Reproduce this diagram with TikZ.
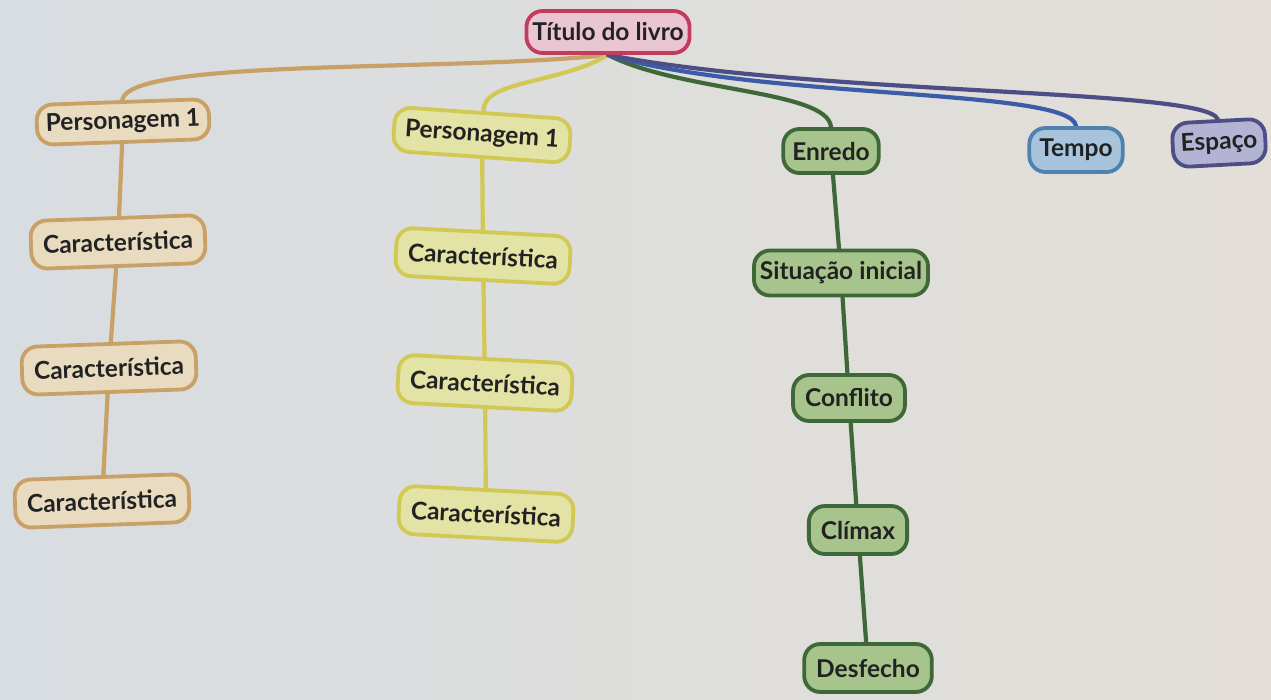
\documentclass[tikz,border=0pt]{standalone}
\usepackage{fontspec}
\setmainfont{Lato}
\pgfdeclarelayer{bg}
\pgfdeclarelayer{edges}
\pgfsetlayers{bg,edges,main}
\definecolor{bgleft}{HTML}{D8DDE1}
\definecolor{bgright}{HTML}{E3DED7}
\definecolor{tanfill}{HTML}{E8DBC0}
\definecolor{tandraw}{HTML}{C9A066}
\definecolor{yelfill}{HTML}{E3E3A6}
\definecolor{yeldraw}{HTML}{D2C955}
\definecolor{grnfill}{HTML}{A8C48D}
\definecolor{grndraw}{HTML}{3E6838}
\definecolor{blufill}{HTML}{A7C4DC}
\definecolor{bludraw}{HTML}{4F82AE}
\definecolor{blueline}{HTML}{3C5CA8}
\definecolor{purfill}{HTML}{B3B3D3}
\definecolor{purdraw}{HTML}{4E4E86}
\definecolor{rootfill}{HTML}{E9C6D1}
\definecolor{rootdraw}{HTML}{C23C5E}
\definecolor{txt}{HTML}{222222}
\tikzset{
  box/.style={rounded corners=16pt, line width=3.8pt, inner xsep=12pt, inner ysep=4pt,
    minimum height=44pt, text=txt, font=\fontsize{24.5}{26}\selectfont\bfseries},
  tanbox/.style={box, fill=tanfill, draw=tandraw},
  yelbox/.style={box, fill=yelfill, draw=yeldraw},
  grnbox/.style={box, fill=grnfill, draw=grndraw},
  blubox/.style={box, fill=blufill, draw=bludraw},
  purbox/.style={box, fill=purfill, draw=purdraw},
  rootbox/.style={box, fill=rootfill, draw=rootdraw, minimum height=42pt, inner xsep=6pt},
  link/.style={line width=4.2pt, line cap=round},
}
\begin{document}
\begin{tikzpicture}[x=1pt,y=-1pt]
\begin{pgfonlayer}{bg}
  \shade[left color=bgleft, right color=bgright] (0,0) rectangle (1271,700);
\end{pgfonlayer}
\useasboundingbox (0,0) rectangle (1271,700);

% root
\node[rootbox] (t) at (608,32) {Título do livro};

% left column (tan)
\node[tanbox, rotate=2, minimum height=40pt, inner xsep=9pt] (p1) at (123,122) {Personagem 1};
\node[tanbox, rotate=2, minimum height=48pt] (c1) at (118,242) {Característica};
\node[tanbox, rotate=2, minimum height=48pt] (c2) at (109,368) {Característica};
\node[tanbox, rotate=2, minimum height=48pt] (c3) at (102,501) {Característica};

% middle column (yellow)
\node[yelbox, rotate=-4, minimum height=44pt, inner xsep=11pt] (p2) at (482,135) {Personagem 1};
\node[yelbox, rotate=-3, minimum height=48pt] (d1) at (483,256) {Característica};
\node[yelbox, rotate=-3, minimum height=48pt] (d2) at (485,383) {Característica};
\node[yelbox, rotate=-3, minimum height=48pt] (d3) at (486,514) {Característica};

% green column
\node[grnbox, inner xsep=9pt] (e) at (831,151) {Enredo};
\node[grnbox, inner xsep=6pt, minimum height=45pt] (s1) at (841,273) {Situação inicial};
\node[grnbox, minimum height=46pt] (s2) at (849,398) {Conflito};
\node[grnbox, minimum height=48pt] (s3) at (858,530) {Clímax};
\node[grnbox, minimum height=48pt] (s4) at (868,668) {Desfecho};

% blue / purple
\node[blubox, inner xsep=10pt] (tp) at (1076,150) {Tempo};
\node[purbox, inner xsep=8pt, rotate=3] (es) at (1219,143) {Espaço};

\begin{pgfonlayer}{edges}
  \draw[link, tandraw] (t.south) .. controls (450,72) and (128,58) .. (p1.north);
  \draw[link, yeldraw] (t.south) .. controls (560,84) and (482,80) .. (p2.north);
  \draw[link, grndraw] (t.south) .. controls (680,92) and (828,90) .. (e.north);
  \draw[link, blueline] (t.south) .. controls (760,100) and (1072,88) .. (tp.north);
  \draw[link, purdraw] (t.south) .. controls (820,96) and (1205,88) .. (es.north);

  \draw[link, tandraw] (p1) -- (c1);
  \draw[link, tandraw] (c1) -- (c2);
  \draw[link, tandraw] (c2) -- (c3);
  \draw[link, yeldraw] (p2) -- (d1);
  \draw[link, yeldraw] (d1) -- (d2);
  \draw[link, yeldraw] (d2) -- (d3);
  \draw[link, grndraw] (e) -- (s1);
  \draw[link, grndraw] (s1) -- (s2);
  \draw[link, grndraw] (s2) -- (s3);
  \draw[link, grndraw] (s3) -- (s4);
\end{pgfonlayer}
\end{tikzpicture}
\end{document}
